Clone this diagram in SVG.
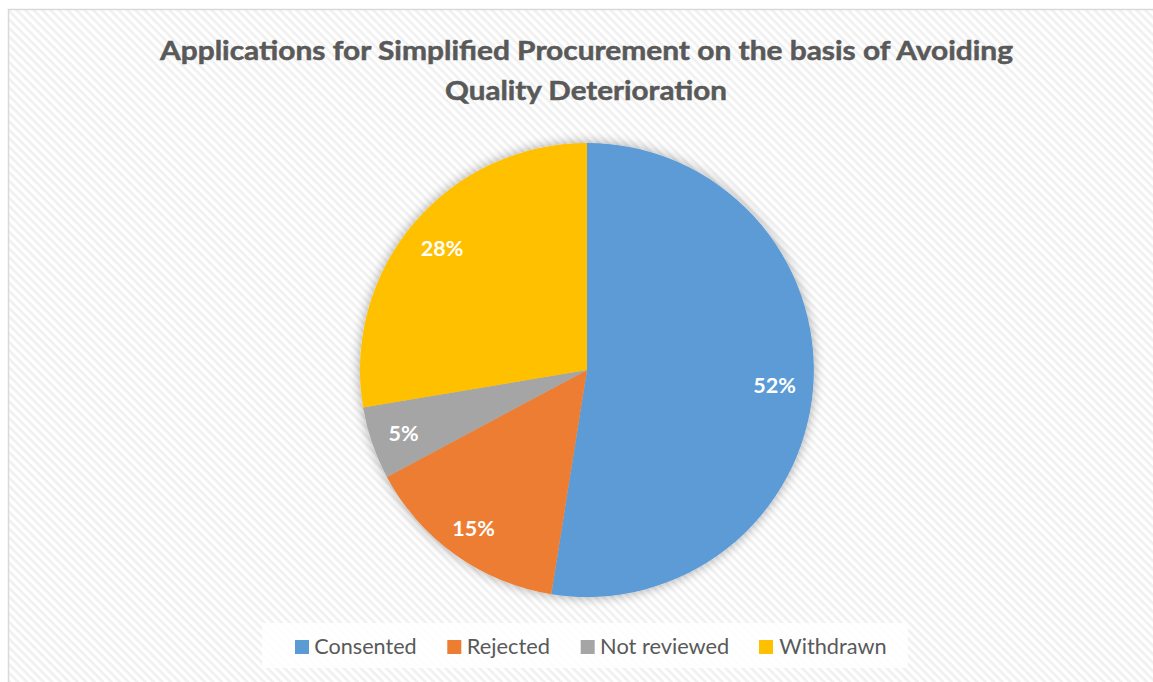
<svg xmlns="http://www.w3.org/2000/svg" width="1153" height="682" viewBox="0 0 1153 682">
  <style>
    .title { font-family: Lato, "Open Sans", "Liberation Sans", sans-serif; font-weight: bold; font-size: 27px; fill: #595959; stroke: #595959; stroke-width: 0.5px; }
    .lbl { font-family: Lato, "Open Sans", "Liberation Sans", sans-serif; font-weight: bold; font-size: 21.5px; fill: #ffffff; text-anchor: middle; }
    .leg { font-family: Lato, "Open Sans", "Liberation Sans", sans-serif; font-size: 22px; fill: #595959; }
  </style>
  <defs>
    <pattern id="hatch" width="6" height="6" patternUnits="userSpaceOnUse" patternTransform="rotate(45)">
      <rect width="6" height="6" fill="#ffffff"/>
      <rect y="0" width="6" height="2.6" fill="#f0f0f0"/>
    </pattern>
    <filter id="shadow" x="-20%" y="-20%" width="140%" height="140%">
      <feGaussianBlur in="SourceAlpha" stdDeviation="6"/>
      <feComponentTransfer><feFuncA type="linear" slope="0.35"/></feComponentTransfer>
      <feMerge><feMergeNode/><feMergeNode in="SourceGraphic"/></feMerge>
    </filter>
  </defs>

  <rect x="0" y="0" width="1153" height="682" fill="#ffffff"/>
  <rect id="chart-area" x="8.5" y="9.5" width="1160" height="690" fill="url(#hatch)" stroke="#d9d9d9" stroke-width="1.5"/>

  <g id="title">
    <text class="title" x="160" y="60" textLength="853" lengthAdjust="spacingAndGlyphs">Applications for Simplified Procurement on the basis of Avoiding</text>
    <text class="title" x="445" y="100" textLength="282" lengthAdjust="spacingAndGlyphs">Quality Deterioration</text>
  </g>

  <g id="pie" filter="url(#shadow)">
    <g id="slice-consented"><path d="M587,370 L587,143 A227,227 0 1,1 551.3,594.2 Z" fill="#5b9bd5"/></g>
    <g id="slice-rejected"><path d="M587,370 L551.3,594.2 A227,227 0 0,1 386.8,476.9 Z" fill="#ed7d31"/></g>
    <g id="slice-not-reviewed"><path d="M587,370 L386.8,476.9 A227,227 0 0,1 363.1,407.5 Z" fill="#a5a5a5"/></g>
    <g id="slice-withdrawn"><path d="M587,370 L363.1,407.5 A227,227 0 0,1 587,143 Z" fill="#ffc000"/></g>
  </g>

  <g id="data-labels">
    <text class="lbl" x="774.5" y="393">52%</text>
    <text class="lbl" x="473.5" y="536">15%</text>
    <text class="lbl" x="403.5" y="441">5%</text>
    <text class="lbl" x="442" y="256">28%</text>
  </g>

  <g id="legend">
    <rect x="262" y="623" width="646" height="45" fill="#ffffff" fill-opacity="0.85"/>
    <g id="legend-consented">
      <rect x="295" y="640" width="14" height="14" fill="#5b9bd5"/>
      <text class="leg" x="314.3" y="654" textLength="102.4" lengthAdjust="spacingAndGlyphs">Consented</text>
    </g>
    <g id="legend-rejected">
      <rect x="447.3" y="640" width="14" height="14" fill="#ed7d31"/>
      <text class="leg" x="466.7" y="654" textLength="83.3" lengthAdjust="spacingAndGlyphs">Rejected</text>
    </g>
    <g id="legend-not-reviewed">
      <rect x="580.7" y="640" width="14" height="14" fill="#a5a5a5"/>
      <text class="leg" x="600.1" y="654" textLength="129.2" lengthAdjust="spacingAndGlyphs">Not reviewed</text>
    </g>
    <g id="legend-withdrawn">
      <rect x="759" y="640" width="14" height="14" fill="#ffc000"/>
      <text class="leg" x="779.3" y="654" textLength="107.4" lengthAdjust="spacingAndGlyphs">Withdrawn</text>
    </g>
  </g>
</svg>
